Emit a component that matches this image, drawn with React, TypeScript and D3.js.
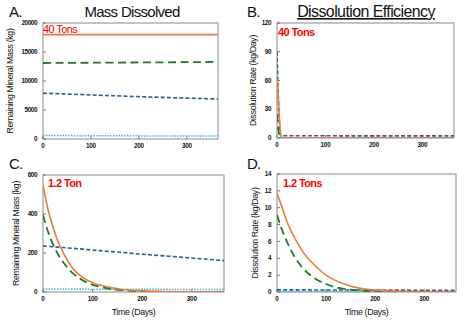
import React from "react";
import * as d3 from "d3";

// ---------- data ----------
const daysA = [0, 100, 200, 300, 365];
const massA_orange = [18000, 18000, 18000, 18000, 18000];
const massA_green = [13100, 13150, 13200, 13250, 13300];
const massA_blue = [7900, 7600, 7300, 7050, 6900];
const massA_light = [600, 570, 540, 520, 500];

const daysB = [0, 1, 2, 3, 4, 5, 6, 7, 8, 10, 100, 200, 300, 365];
const rateB_orange = [62, 55, 47, 38, 30, 22, 14, 7, 3, 0.3, 0.1, 0.1, 0.1, 0.1];
const rateB_green = [25, 19, 13, 8, 4, 1.5, 0.5, 0.2, 0.1, 0.1, 0.1, 0.1, 0.1, 0.1];
const rateB_blue = [90, 72, 55, 40, 26, 14, 6, 2.5, 2.4, 2.4, 2.3, 2.2, 2.2, 2.2];
const rateB_light = [0.3, 0.3, 0.3, 0.3, 0.3, 0.3, 0.3, 0.3, 0.3, 0.3, 0.3, 0.3, 0.3, 0.3];

const daysCD = [0, 10, 20, 30, 40, 50, 60, 80, 100, 120, 140, 160, 180, 200, 250, 300, 365];
const massC_orange = [548, 425, 335, 260, 205, 160, 120, 75, 48, 32, 21, 13, 9, 6, 2, 1, 0];
const massC_green = [395, 310, 245, 195, 155, 123, 97, 60, 37, 24, 14, 9, 6, 4, 1, 0.5, 0];
const massC_blue = [236, 234, 232, 230, 228, 226, 224, 220, 215, 211, 207, 203, 198, 194, 184, 174, 161];
const massC_light = [15, 15, 15, 15, 15, 15, 15, 15, 14.5, 14.5, 14, 14, 14, 14, 13.5, 13, 13];

const rateD_orange = [11.7, 10.1, 8.4, 7.1, 6.0, 5.0, 4.2, 3.0, 2.0, 1.35, 0.9, 0.55, 0.35, 0.22, 0.08, 0.03, 0.01];
const rateD_green = [9.15, 7.4, 6.0, 4.8, 3.8, 3.0, 2.4, 1.5, 0.95, 0.55, 0.35, 0.22, 0.14, 0.09, 0.03, 0.01, 0];
const rateD_blue = [0.25, 0.25, 0.25, 0.25, 0.25, 0.25, 0.25, 0.24, 0.24, 0.24, 0.23, 0.23, 0.23, 0.22, 0.22, 0.21, 0.2];
const rateD_light = [0.05, 0.05, 0.05, 0.05, 0.05, 0.05, 0.05, 0.05, 0.05, 0.05, 0.05, 0.05, 0.05, 0.05, 0.05, 0.05, 0.05];

const xTicks = [0, 100, 200, 300];
const yTicksA = [0, 5000, 10000, 15000, 20000];
const yTicksB = [0, 30, 60, 90, 120];
const yTicksC = [0, 200, 400, 600];
const yTicksD = [0, 2, 4, 6, 8, 10, 12, 14];

const seriesStyles = [
  { color: "#f07a3c", width: 1.6, dash: "" },
  { color: "#1f7a25", width: 1.8, dash: "8,4.5" },
  { color: "#22648f", width: 1.6, dash: "4,2.2" },
  { color: "#3bb6e6", width: 1.5, dash: "1.5,1.3" },
];

const FONT = "'Liberation Sans', Arial, sans-serif";

type PanelProps = {
  x0: number; x1: number; y0: number; y1: number;
  ymax: number; yTicks: number[];
  days: number[]; series: number[][];
  yLabel: string; annotation: string; annBold: boolean; annX: number; annY: number;
  xLabel?: string; ylx: number;
};

function Panel(p: PanelProps) {
  const xs = d3.scaleLinear().domain([0, 365]).range([p.x0, p.x1]);
  const ys = d3.scaleLinear().domain([0, p.ymax]).range([p.y1, p.y0]);
  const line = d3.line<number>().x((_, i) => xs(p.days[i])).y((v) => ys(v)).curve(d3.curveMonotoneX);
  const order = [3, 2, 1, 0];
  return (
    <g>
      <defs>
        <clipPath id={`clip-${p.x0}-${p.y0}`}>
          <rect x={p.x0} y={p.y0 - 1} width={p.x1 - p.x0} height={p.y1 - p.y0 + 1} />
        </clipPath>
      </defs>
      <rect x={p.x0} y={p.y0} width={p.x1 - p.x0} height={p.y1 - p.y0} fill="white" stroke="#8a8a8a" strokeWidth={1} />
      {p.yTicks.map((t) => (
        <g key={"y" + t}>
          <line x1={p.x0} x2={p.x0 + 3} y1={ys(t)} y2={ys(t)} stroke="#555" strokeWidth={0.8} />
          <text x={p.x0 - 6} y={ys(t) + 2.2} fontSize={6.3} fontWeight="bold" textAnchor="end" fontFamily={FONT} fill="#111" letterSpacing={-0.4}>{t}</text>
        </g>
      ))}
      {xTicks.map((t) => (
        <g key={"x" + t}>
          <line x1={xs(t)} x2={xs(t)} y1={p.y1} y2={p.y1 - 3} stroke="#555" strokeWidth={0.8} />
          <text x={xs(t)} y={p.y1 + 9} fontSize={6.3} fontWeight="bold" textAnchor="middle" fontFamily={FONT} fill="#111" letterSpacing={-0.2}>{t}</text>
        </g>
      ))}
      <g clipPath={`url(#clip-${p.x0}-${p.y0})`}>
        {order.map((i) => (
          <path key={i} d={line(p.series[i]) || ""} fill="none" stroke={seriesStyles[i].color}
            strokeWidth={seriesStyles[i].width} strokeDasharray={seriesStyles[i].dash} />
        ))}
      </g>
      <text x={p.annX} y={p.annY} fontSize={11} fontWeight={p.annBold ? "bold" : "normal"} fill="#ff0000" fontFamily={FONT} letterSpacing={-0.6}>{p.annotation}</text>
      <text transform={`translate(${p.ylx},${(p.y0 + p.y1) / 2}) rotate(-90)`} fontSize={8.8} textAnchor="middle" fontFamily={FONT} fill="#111" letterSpacing={-0.35}>{p.yLabel}</text>
      {p.xLabel && (
        <text x={(p.x0 + p.x1) / 2} y={p.y1 + 23} fontSize={8.8} textAnchor="middle" fontFamily={FONT} fill="#111" letterSpacing={-0.35}>{p.xLabel}</text>
      )}
    </g>
  );
}

export default function App() {
  return (
    <svg width={465} height={329} style={{ position: "absolute", left: 0, top: 0, background: "white" }}>
      <text x={9} y={17} fontSize={15} fontFamily={FONT} fill="#111" letterSpacing={-0.8}>A.</text>
      <text x={132} y={17} fontSize={15} fontFamily={FONT} fill="#111" textAnchor="middle" letterSpacing={-0.7}>Mass Dissolved</text>
      <text x={247} y={17} fontSize={15} fontFamily={FONT} fill="#111" letterSpacing={-0.8}>B.</text>
      <text x={366} y={17} fontSize={16} fontFamily={FONT} fill="#111" textAnchor="middle" letterSpacing={-0.6} textDecoration="underline">Dissolution Efficiency</text>
      <text x={9} y={169} fontSize={15} fontFamily={FONT} fill="#111" letterSpacing={-0.8}>C.</text>
      <text x={247} y={169} fontSize={15} fontFamily={FONT} fill="#111" letterSpacing={-0.8}>D.</text>

      <Panel x0={43} x1={218} y0={23} y1={139} ymax={20000} yTicks={yTicksA}
        days={daysA} series={[massA_orange, massA_green, massA_blue, massA_light]}
        yLabel="Remaining Mineral Mass (kg)" annotation="40 Tons" annBold={false} annX={43} annY={33} ylx={13} />
      <Panel x0={277} x1={454} y0={23} y1={138} ymax={120} yTicks={yTicksB}
        days={daysB} series={[rateB_orange, rateB_green, rateB_blue, rateB_light]}
        yLabel="Dissolution Rate (kg/Day)" annotation="40 Tons" annBold={true} annX={278} annY={36} ylx={256} />
      <Panel x0={43} x1={224} y0={175} y1={292} ymax={600} yTicks={yTicksC}
        days={daysCD} series={[massC_orange, massC_green, massC_blue, massC_light]}
        yLabel="Remaining Mineral Mass (kg)" annotation="1.2 Ton" annBold={true} annX={48} annY={187} xLabel="Time (Days)" ylx={19} />
      <Panel x0={277} x1={456} y0={174} y1={292} ymax={14} yTicks={yTicksD}
        days={daysCD} series={[rateD_orange, rateD_green, rateD_blue, rateD_light]}
        yLabel="Dissolution Rate (kg/Day)" annotation="1.2 Tons" annBold={true} annX={283} annY={187} xLabel="Time (Days)" ylx={258} />
    </svg>
  );
}
